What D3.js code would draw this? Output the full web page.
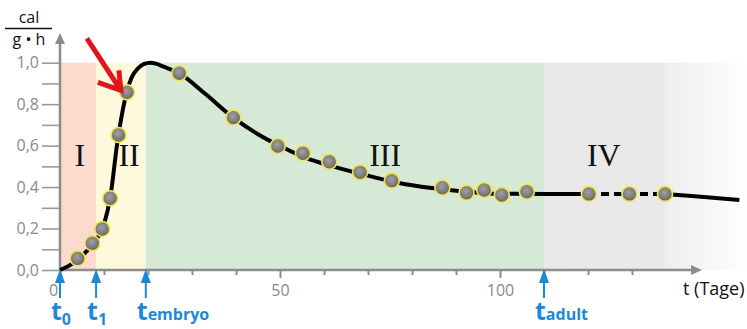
<!DOCTYPE html>
<html>
<head>
<meta charset="utf-8">
<script src="https://cdn.jsdelivr.net/npm/d3@7"></script>
<style>
  body { margin: 0; background: #fff; }
  svg { display: block; font-family: "Open Sans", sans-serif; }
</style>
</head>
<body>
<div id="chart"></div>
<script>
// Phases of development (t in days)
const phaseNames = ["I", "II", "III", "IV"];
const phaseStart = [0, 8.2, 19.5, 110];
const phaseEnd = [8.2, 19.5, 110, 157];
const phaseLabelT = [4.5, 15.7, 73.9, 123.6];
const phaseLabelY = 0.5;

// Time markers below the axis
const markerT = [0, 8.2, 19.5, 110];
const markerSub = ["0", "1", "embryo", "adult"];

// Fitted curve (solid part)
const curveT = [0, 2, 4, 6, 8, 10, 11.5, 13, 15.2, 16.3, 17.7, 19, 20.5, 22, 23.4, 27, 33, 39.4, 45, 50, 56, 62, 70, 77, 85, 92, 100, 111, 120];
const curveY = [0, 0.02, 0.05, 0.09, 0.14, 0.22, 0.36, 0.61, 0.86, 0.93, 0.972, 0.993, 1.0, 0.994, 0.982, 0.95, 0.85, 0.735, 0.655, 0.598, 0.54, 0.50, 0.455, 0.42, 0.394, 0.378, 0.368, 0.367, 0.367];
// dashed stretch and tail
const dashT = [120, 137.5];
const dashY = [0.367, 0.367];
const tailT = [137.5, 145, 154.4];
const tailY = [0.367, 0.355, 0.338];

// Measured values
const dotT = [4.0, 7.35, 9.6, 11.4, 13.3, 15.2, 27.1, 39.4, 49.5, 55.2, 61.2, 68.2, 75.4, 86.9, 92.4, 96.4, 100.4, 106.1, 120.2, 129.4, 137.5];
const dotY = [0.056, 0.129, 0.198, 0.346, 0.651, 0.857, 0.949, 0.735, 0.598, 0.563, 0.522, 0.471, 0.431, 0.397, 0.373, 0.386, 0.362, 0.378, 0.367, 0.367, 0.367];

// Ticks
const yTicks = [0, 0.1, 0.2, 0.3, 0.4, 0.5, 0.6, 0.7, 0.8, 0.9, 1.0];
const yLabels = [0, 0.2, 0.4, 0.6, 0.8, 1.0];
const xTicks = [0, 10, 20, 30, 40, 50, 60, 70, 80, 90, 100, 110, 120, 130];
const xLabels = [0, 50, 100];

const width = 747;
const height = 329;

const svg = d3.select("#chart").append("svg")
  .attr("width", width)
  .attr("height", height);

const x = d3.scaleLinear().domain([0, 145]).range([60, 698]);
const y = d3.scaleLinear().domain([0, 1]).range([270, 62.7]);

const phaseColor = d3.scaleOrdinal().domain(phaseNames)
  .range(["#fcdacd", "#fef8dc", "#d6e9d6", "url(#fadeGray)"]);

const defs = svg.append("defs");

// gray phase fades out to the right
const fade = defs.append("linearGradient").attr("id", "fadeGray")
  .attr("gradientUnits", "userSpaceOnUse")
  .attr("x1", x(110)).attr("x2", width).attr("y1", 0).attr("y2", 0);
fade.append("stop").attr("offset", 0).attr("stop-color", "#e8e8e8");
fade.append("stop").attr("offset", 0.59).attr("stop-color", "#e9e9e9");
fade.append("stop").attr("offset", 0.6).attr("stop-color", "#eeeeee");
fade.append("stop").attr("offset", 1).attr("stop-color", "#fefefe");

// ball shading for the dots
const ball = defs.append("radialGradient").attr("id", "ball")
  .attr("cx", "45%").attr("cy", "40%").attr("r", "65%");
ball.append("stop").attr("offset", 0).attr("stop-color", "#a0a0a0");
ball.append("stop").attr("offset", 0.6).attr("stop-color", "#7c7c7c");
ball.append("stop").attr("offset", 1).attr("stop-color", "#585858");

// Background phases
svg.append("g").selectAll("rect")
  .data(phaseNames)
  .join("rect")
  .attr("x", (d, i) => x(phaseStart[i]))
  .attr("width", (d, i) => x(phaseEnd[i]) - x(phaseStart[i]))
  .attr("y", y(1))
  .attr("height", y(0) - y(1))
  .attr("fill", d => phaseColor(d));

svg.append("g").selectAll("text")
  .data(phaseNames)
  .join("text")
  .attr("x", (d, i) => x(phaseLabelT[i]))
  .attr("y", y(phaseLabelY))
  .attr("text-anchor", "middle")
  .attr("font-family", "'Liberation Serif', serif")
  .attr("font-size", 32)
  .attr("fill", "#111")
  .text(d => d);

// Y axis
const fmt = d3.format(".1f");
const yAxis = svg.append("g")
  .attr("transform", `translate(${x(0)},0)`)
  .call(d3.axisLeft(y).tickValues(yTicks).tickSize(18).tickPadding(3)
    .tickFormat(d => yLabels.some(v => Math.abs(v - d) < 1e-9) ? fmt(d).replace(".", ",") : ""));
yAxis.select(".domain").remove();
yAxis.selectAll(".tick line").attr("stroke", "#9a9a9a").attr("stroke-width", 1.6);
yAxis.selectAll(".tick text").attr("fill", "#8a8a8a").attr("font-size", 16)
  .attr("font-family", "'Open Sans', sans-serif");

// X axis
const xAxis = svg.append("g")
  .attr("transform", `translate(0,${y(0)})`)
  .call(d3.axisBottom(x).tickValues(xTicks).tickSize(5).tickPadding(10)
    .tickFormat(d => xLabels.includes(d) ? d : ""));
xAxis.select(".domain").remove();
xAxis.selectAll(".tick line").attr("stroke", "#8c8c8c").attr("stroke-width", 2)
  .attr("y2", d => (xLabels.includes(d) && d > 0) ? 8 : 5);
xAxis.selectAll(".tick text").attr("fill", "#8a8a8a").attr("font-size", 16)
  .attr("font-family", "'Open Sans', sans-serif")
  .attr("x", d => d === 0 ? -7 : 0);

// axis lines with arrow heads
svg.append("line").attr("x1", x(0)).attr("x2", 694).attr("y1", y(0)).attr("y2", y(0))
  .attr("stroke", "#8c8c8c").attr("stroke-width", 2.5);
svg.append("path").attr("d", `M691,${y(0) - 5}L702,${y(0)}L691,${y(0) + 5}Z`).attr("fill", "#8c8c8c");
svg.append("line").attr("x1", x(0)).attr("x2", x(0)).attr("y1", y(0)).attr("y2", 42)
  .attr("stroke", "#8c8c8c").attr("stroke-width", 2.5);
svg.append("path").attr("d", `M${x(0) - 5},44L${x(0)},33L${x(0) + 5},44Z`).attr("fill", "#8c8c8c");

// Unit label cal / (g·h)
svg.append("text").attr("x", 29).attr("y", 23).attr("text-anchor", "middle")
  .attr("font-size", 16).attr("fill", "#111").text("cal");
svg.append("line").attr("x1", 5).attr("x2", 52).attr("y1", 28.5).attr("y2", 28.5)
  .attr("stroke", "#111").attr("stroke-width", 1.4);
svg.append("text").attr("x", 29).attr("y", 45).attr("text-anchor", "middle")
  .attr("font-size", 16).attr("fill", "#111").text("g \u2022 h");

svg.append("text").attr("x", 683).attr("y", 295)
  .attr("font-size", 18).attr("fill", "#111").text("t (Tage)");

// Curve
const line = d3.line().x(d => x(d[0])).y(d => y(d[1])).curve(d3.curveMonotoneX);
svg.append("path")
  .attr("d", line(curveT.map((t, i) => [t, curveY[i]])))
  .attr("fill", "none").attr("stroke", "#000").attr("stroke-width", 4);
svg.append("path")
  .attr("d", line(dashT.map((t, i) => [t, dashY[i]])))
  .attr("fill", "none").attr("stroke", "#000").attr("stroke-width", 4)
  .attr("stroke-dasharray", "8,5");
svg.append("path")
  .attr("d", line(tailT.map((t, i) => [t, tailY[i]])))
  .attr("fill", "none").attr("stroke", "#000").attr("stroke-width", 4);

// Measured points
svg.append("g").selectAll("circle")
  .data(dotT)
  .join("circle")
  .attr("cx", d => x(d))
  .attr("cy", (d, i) => y(dotY[i]))
  .attr("r", 7.5)
  .attr("fill", "url(#ball)")
  .attr("stroke", "#f4e64a")
  .attr("stroke-width", 1.6);

// Red arrow pointing at the inflection measurement
const tx = x(dotT[5]) - 6, ty = y(dotY[5]) - 2;
svg.append("path")
  .attr("d", `M${tx - 34},${ty - 52}L${tx},${ty}M${tx - 23},${ty - 8}L${tx},${ty}L${tx - 2},${ty - 20}`)
  .attr("fill", "none").attr("stroke", "#e3141b").attr("stroke-width", 5)
  .attr("stroke-linejoin", "miter").attr("stroke-linecap", "butt");

// Blue time markers
const blue = "#1b8ad6";
const markers = svg.append("g").selectAll("g")
  .data(markerT)
  .join("g")
  .attr("transform", d => `translate(${x(d)},0)`);
markers.append("line").attr("x1", 0).attr("x2", 0).attr("y1", 280).attr("y2", 298)
  .attr("stroke", blue).attr("stroke-width", 2);
markers.append("path").attr("d", `M-5,283L0,${y(0) - 1}L5,283Z`).attr("fill", blue);
const lab = markers.append("text")
  .attr("x", -9).attr("y", 320)
  .attr("font-weight", "bold").attr("fill", blue).attr("font-size", 25);
lab.append("tspan").text("t");
lab.append("tspan")
  .attr("font-size", 16)
  .attr("dy", (d, i) => isNaN(+markerSub[i]) ? 0 : 5)
  .text((d, i) => markerSub[i]);
</script>
</body>
</html>
